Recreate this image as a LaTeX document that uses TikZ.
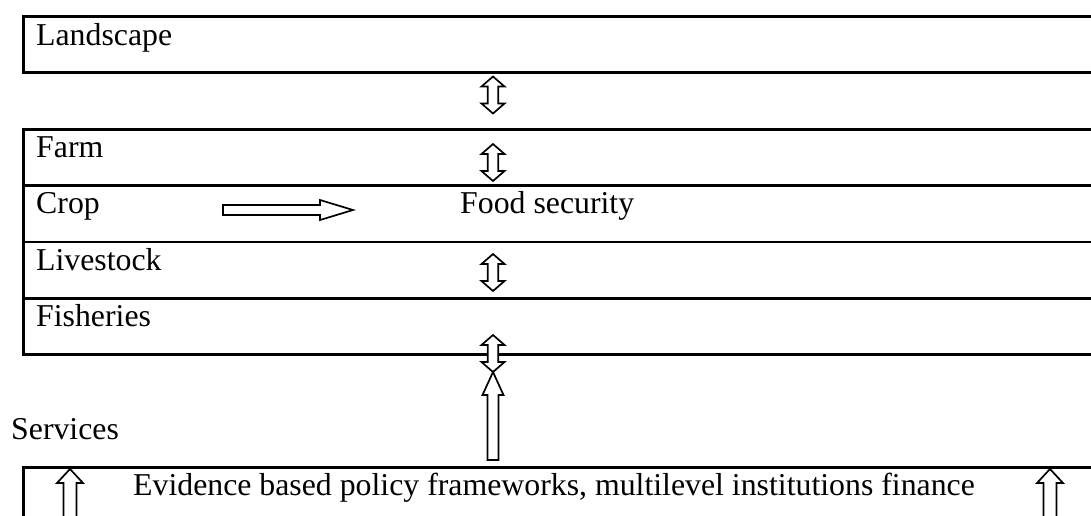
\documentclass[tikz,border=0pt]{standalone}
\usepackage{fontspec}
\setmainfont{Liberation Serif}
\tikzset{
  x=1pt, y=-1pt,
  rowbox/.style={draw, line width=2.7pt, anchor=north west, inner sep=0pt,
    minimum width=1090pt, minimum height=56.3pt},
  label/.style={anchor=base west, inner sep=0pt,
    font=\fontsize{31.8pt}{38pt}\selectfont},
  arrowline/.style={draw, fill=white, line width=1.7pt, line join=miter},
  vdouble/.pic={
    \path[arrowline] (0,-18.5) -- (11.5,-8.5) -- (5.3,-8.5) -- (5.3,8.5)
      -- (11.5,8.5) -- (0,18.5) -- (-11.5,8.5) -- (-5.3,8.5) -- (-5.3,-8.5)
      -- (-11.5,-8.5) -- cycle;
  },
  upblock/.pic={
    \path[arrowline] (0,0) -- (13,14) -- (6.5,14) -- (6.5,60) -- (-6.5,60)
      -- (-6.5,14) -- (-13,14) -- cycle;
  }
}
\begin{document}
\begin{tikzpicture}
\useasboundingbox (0,0) rectangle (1091,515);
\clip (0,0) rectangle (1091,515);

% layered boxes
\node[rowbox, minimum height=56pt] (landbox) at (22,15) {};
\node[rowbox] (farmbox) at (22,128) {};
\node[rowbox] (cropbox) at (22,184.3) {};
\node[rowbox] (livebox) at (22,240.6) {};
\node[rowbox] (fishbox) at (22,296.9) {};
\node[rowbox, minimum height=80pt] (policybox) at (22,466) {};

% labels
\node[label] (landscape) at (36,45) {Landscape};
\node[label] (farm) at (36,157) {Farm};
\node[label] (crop) at (36,213) {Crop};
\node[label] (livestock) at (36,270) {Livestock};
\node[label] (fisheries) at (36,326.5) {Fisheries};
\node[label] (food) at (460,213) {Food security};
\node[label] (services) at (11,439) {Services};
\node[label] (policy) at (133,495) {Evidence based policy frameworks, multilevel institutions finance};

% vertical double arrows between the levels
\pic at (493,95) {vdouble};
\pic at (493,162.5) {vdouble};
\pic at (493,272.5) {vdouble};

% crop to food security
\path[arrowline] (223,205) -- (320,205) -- (320,200) -- (353,210)
  -- (320,220) -- (320,215) -- (223,215) -- cycle;

% services rising into the farm levels
\path[arrowline] (493,372) -- (503.5,395) -- (498.5,395) -- (498.5,460)
  -- (487.5,460) -- (487.5,395) -- (482.5,395) -- cycle;
\pic at (493,353.5) {vdouble};

% arrows rising from the policy box
\pic at (70,469) {upblock};
\pic at (1050,469) {upblock};
\end{tikzpicture}
\end{document}
